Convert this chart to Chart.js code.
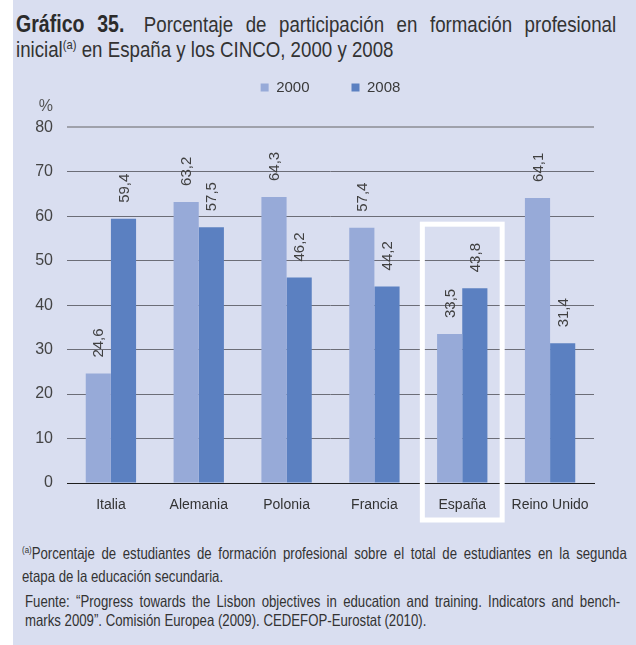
<!DOCTYPE html>
<html>
<head>
<meta charset="utf-8">
<script src="https://cdn.jsdelivr.net/npm/chart.js@4/dist/chart.umd.min.js"></script>
<style>
  html, body { margin: 0; padding: 0; background: #fff; }
  #panel { position: absolute; left: 13px; top: 0; width: 623px; height: 645px; background: #d9def0; }
  .txt { position: absolute; font-family: "Liberation Sans", Arial, sans-serif; color: #333; transform-origin: 0 0; }
  .blk { display: block; text-align: justify; text-align-last: justify; }
  #title { left: 16px; top: 12px; width: 706px; font-size: 22px; line-height: 25px; transform: scaleX(0.85); }
  #title b { color: #2b2b2b; margin-right: 8px; font-size: 23px; }
  sup { font-size: 60%; vertical-align: 0; position: relative; top: -0.6em; }
  #note { left: 22px; top: 543px; width: 756px; font-size: 16.5px; line-height: 20px; transform: scaleX(0.8); }
  #src { left: 25px; top: 592px; width: 744px; font-size: 16.5px; line-height: 19px; transform: scaleX(0.8); }
  #chartWrap { position: absolute; left: 0; top: 38px; width: 636px; height: 490px; }
</style>
</head>
<body>
<div id="panel"></div>
<div id="title" class="txt"><span class="blk"><b>Gráfico 35.</b> Porcentaje de participación en formación profesional</span>inicial<sup>(a)</sup> en España y los CINCO, 2000 y 2008</div>
<div id="chartWrap"><canvas id="chart" width="636" height="490"></canvas></div>
<div id="note" class="txt"><span class="blk"><sup>(a)</sup>Porcentaje de estudiantes de formación profesional sobre el total de estudiantes en la segunda</span>etapa de la educación secundaria.</div>
<div id="src" class="txt"><span class="blk">Fuente: “Progress towards the Lisbon objectives in education and training. Indicators and bench-</span>marks 2009”. Comisión Europea (2009). CEDEFOP-Eurostat (2010).</div>
<script>
  // data
  const countries = ["Italia", "Alemania", "Polonia", "Francia", "España", "Reino Unido"]
  const values2000 = [24.6, 63.2, 64.3, 57.4, 33.5, 64.1]
  const values2008 = [59.4, 57.5, 46.2, 44.2, 43.8, 31.4]
  const seriesNames = ["2000", "2008"]
  const yTicks = [0, 10, 20, 30, 40, 50, 60, 70, 80]
  const yUnit = "%"
  const highlighted = "España"

  const chartFont = "'Liberation Sans', Arial, sans-serif"
  const fmt = (v) => v.toFixed(1).replace(".", ",")

  // rotated value labels above each bar, plus the unit over the y axis
  const barLabels = {
    id: "barLabels",
    afterDatasetsDraw(chart) {
      const ctx = chart.ctx
      ctx.save()
      ctx.font = "15px " + chartFont
      ctx.fillStyle = "#404040"
      ctx.textAlign = "left"
      ctx.textBaseline = "middle"
      chart.data.datasets.forEach((ds, i) => {
        chart.getDatasetMeta(i).data.forEach((bar, j) => {
          ctx.save()
          ctx.translate(bar.x, bar.y - 16)
          ctx.rotate(-Math.PI / 2)
          ctx.fillText(fmt(ds.data[j]), 0, 1)
          ctx.restore()
        })
      })
      const y = chart.scales.y
      ctx.font = "16px " + chartFont
      ctx.fillStyle = "#555"
      ctx.textAlign = "right"
      ctx.fillText(yUnit, y.right - 14, y.getPixelForValue(yTicks[yTicks.length - 1]) - 21)
      ctx.restore()
    }
  }

  // white frame round the highlighted country
  const frame = {
    id: "frame",
    beforeDatasetsDraw(chart) {
      const x = chart.scales.x, y = chart.scales.y
      const idx = countries.indexOf(highlighted)
      const cx = x.getPixelForValue(idx)
      const half = (x.width / countries.length) / 2 - 4
      const top = y.getPixelForValue(58.2)
      const bottom = chart.chartArea.bottom + 37
      const ctx = chart.ctx
      ctx.save()
      ctx.strokeStyle = "#ffffff"
      ctx.lineWidth = 5
      ctx.strokeRect(cx - half, top, half * 2, bottom - top)
      ctx.restore()
    }
  }

  new Chart(document.getElementById("chart"), {
    type: "bar",
    data: {
      labels: countries,
      datasets: [
        { label: seriesNames[0], data: values2000, backgroundColor: "#97aad8", borderWidth: 0 },
        { label: seriesNames[1], data: values2008, backgroundColor: "#5b80c1", borderWidth: 0 }
      ]
    },
    options: {
      responsive: false,
      animation: false,
      devicePixelRatio: 1,
      categoryPercentage: 0.573,
      barPercentage: 1,
      layout: { padding: { left: 0, right: 42, top: 0, bottom: 0 } },
      plugins: {
        tooltip: { enabled: false },
        legend: {
          position: "top",
          fullSize: false,
          labels: { boxWidth: 8, boxHeight: 8, padding: 42, color: "#3a3a3a", font: { family: chartFont, size: 15 } }
        }
      },
      scales: {
        x: {
          grid: { display: false },
          border: { display: true, color: "#1e1e1e", width: 1 },
          ticks: { color: "#333", padding: 6, font: { family: chartFont, size: 14 } },
          afterFit: (s) => { s.height = 45 }
        },
        y: {
          min: 0,
          max: 85,
          afterBuildTicks: (s) => { s.ticks = yTicks.map((v) => ({ value: v })) },
          border: { display: false },
          grid: {
            drawTicks: false,
            color: (c) => c.tick.value === 80 ? "#9fa1ab" : (c.tick.value === 0 ? "rgba(0,0,0,0)" : "#6c6d77"),
            lineWidth: (c) => c.tick.value === 80 ? 2 : 1
          },
          ticks: { color: "#444", padding: 14, font: { family: chartFont, size: 16 } },
          afterFit: (s) => { s.width = 67 }
        }
      }
    },
    plugins: [frame, barLabels]
  })
</script>
</body>
</html>
